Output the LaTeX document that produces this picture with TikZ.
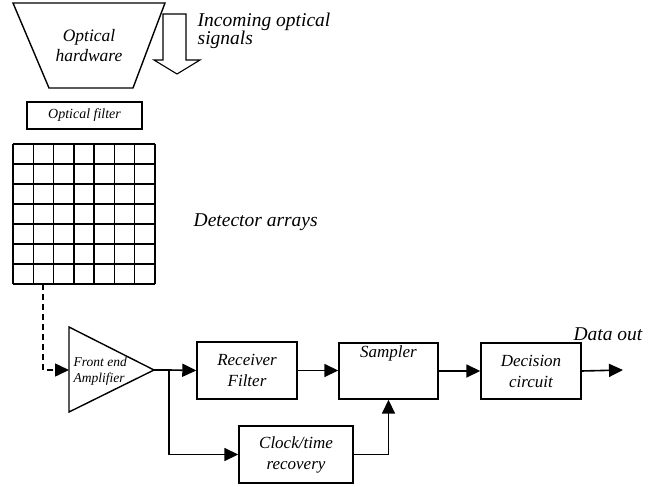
\documentclass[tikz,border=0pt]{standalone}
\usepackage{fontspec}
\setmainfont{Liberation Serif}
\usetikzlibrary{arrows.meta}
\begin{document}
\begin{tikzpicture}[x=1pt,y=-1pt,
  line width=1.4pt,
  blk/.style={draw,line width=1.4pt,rectangle,inner sep=0pt,align=center,font=\fontsize{17}{21}\selectfont\itshape},
  lbl/.style={inner sep=0pt,align=left,font=\fontsize{19.5}{19}\selectfont\itshape},
  small/.style={inner sep=0pt,align=left,font=\fontsize{13.5}{16}\selectfont\itshape},
  arr/.style={-{Triangle[length=14pt,width=13pt]},line width=1.6pt}]
\useasboundingbox (0,0) rectangle (661,487);
% optical hardware trapezoid
\draw (13,3) -- (165,3) -- (133,88) -- (49,88) -- cycle;
\node[inner sep=0pt,align=center,font=\fontsize{17.5}{20}\selectfont\itshape] (hw) at (89,46) {Optical\\hardware};
% hollow arrow
\draw[line width=1.1pt] (163,14) -- (186,14) -- (186,60) -- (200,60) -- (177,74) -- (154,60) -- (163,60) -- cycle;
\node[lbl,anchor=base west] (inc) at (197,27) {Incoming optical};
\node[lbl,anchor=base west] (sig) at (197,45) {signals};
% optical filter
\node[draw,line width=1.4pt,minimum width=115pt,minimum height=27pt,inner sep=0pt,font=\fontsize{14}{16}\selectfont\itshape] (of) at (84.5,115.5) {Optical filter};
% detector grid
\foreach \i in {0,...,7} {
  \draw (13+\i*20.286,144) -- (13+\i*20.286,284);
  \draw (13,144+\i*20) -- (155,144+\i*20);
}
\coordinate (gridout) at (43,284);
\node[lbl,anchor=west] (det) at (193,222) {Detector arrays};
% amplifier triangle
\coordinate (ampin) at (69,370);
\coordinate (ampout) at (154,370);
\draw (69,327) -- (154,370) -- (69,412) -- cycle;
\node[small,anchor=west] (amp) at (73,371) {Front end\\Amplifier};
\draw[arr,dash pattern=on 6pt off 4pt] (gridout) |- (ampin);
% blocks
\node[blk,minimum width=100pt,minimum height=57pt] (rf) at (247,370.5) {Receiver\\Filter};
\node[blk,minimum width=99pt,minimum height=56pt] (sa) at (388.5,371) {};
\node[blk,draw=none,anchor=north] (satext) at (388.5,345) {Sampler};
\node[blk,minimum width=100pt,minimum height=56pt] (dc) at (531,371) {Decision\\circuit};
\node[blk,minimum width=114pt,minimum height=57pt] (ck) at (296,454.5) {Clock/time\\recovery};
\coordinate (br) at (169,370);
\coordinate (outend) at (623,370);
\node[lbl,anchor=base] (dout) at (608,340) {Data out};
% connectors
\draw[line width=1.6pt] (ampout) -- (br);
\draw[arr] (br) -- (rf.west);
\draw[arr] (br) |- (ck.west);
\draw[arr] (rf.east) -- (rf.east -| sa.west);
\draw[arr] (ck.east) -| (sa.south);
\draw[arr] (sa.east) -- (dc.west);
\draw[arr] (dc.east) -- (outend);
\end{tikzpicture}
\end{document}
